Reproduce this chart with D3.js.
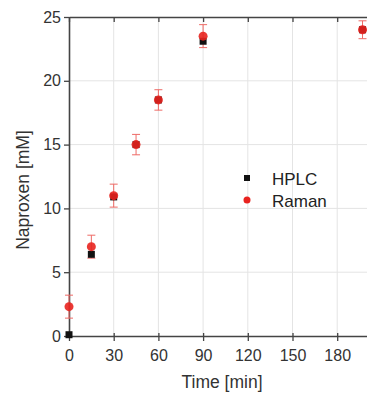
<!DOCTYPE html>
<html>
<head>
<meta charset="utf-8">
<script src="https://cdn.jsdelivr.net/npm/d3@7"></script>
<style>
  body { margin: 0; background: #fff; }
  svg { display: block; font-family: "Liberation Sans", Arial, sans-serif; }
</style>
</head>
<body>
<div id="chart"></div>
<script>
"use strict";

// data
var hplcTime = [0, 15, 30, 45, 60, 90, 197];
var hplcConc = [0.1, 6.4, 10.9, 15.0, 18.5, 23.1, 24.0];
var ramanTime = [0, 15, 30, 45, 60, 90, 197];
var ramanConc = [2.3, 7.0, 11.0, 15.0, 18.5, 23.5, 24.0];
var ramanErr = [0.9, 0.9, 0.9, 0.8, 0.8, 0.9, 0.7];
var xTicks = [0, 30, 60, 90, 120, 150, 180];
var yTicks = [0, 5, 10, 15, 20, 25];
var seriesNames = ["HPLC", "Raman"];

(function(){
    var W = 367, H = 393,
        left = 69, top = 17, bottom = 336, right = 367;

    var svg = d3.select("#chart").append("svg")
        .attr("width", W)
        .attr("height", H);

    var x = d3.scaleLinear().domain([0, 200]).range([left, right]);
    var y = d3.scaleLinear().domain([0, 25]).range([bottom, top]);

    // grid
    svg.append("g").selectAll("line.gx")
        .data(xTicks.slice(1))
        .enter().append("line")
        .attr("x1", function(d){ return x(d); })
        .attr("x2", function(d){ return x(d); })
        .attr("y1", top).attr("y2", bottom)
        .attr("stroke", "#e4e4e4").attr("stroke-width", 1);
    svg.append("g").selectAll("line.gy")
        .data(yTicks.slice(1, -1))
        .enter().append("line")
        .attr("x1", left).attr("x2", right)
        .attr("y1", function(d){ return y(d); })
        .attr("y2", function(d){ return y(d); })
        .attr("stroke", "#e4e4e4").attr("stroke-width", 1);

    // axes
    var xAxis = svg.append("g")
        .attr("transform", "translate(0," + bottom + ")")
        .call(d3.axisBottom(x).tickValues(xTicks).tickSize(5).tickSizeOuter(0).tickPadding(7));
    var yAxis = svg.append("g")
        .attr("transform", "translate(" + left + ",0)")
        .call(d3.axisLeft(y).tickValues(yTicks).tickSize(5).tickSizeOuter(0).tickPadding(3));
    var topAxis = svg.append("g")
        .attr("transform", "translate(0," + top + ")")
        .call(d3.axisTop(x).tickValues(xTicks).tickSize(-5).tickSizeOuter(0).tickFormat(""));

    [xAxis, yAxis, topAxis].forEach(function(a){
        a.select(".domain").attr("stroke", "#444").attr("stroke-width", 1.6);
        a.selectAll(".tick line").attr("stroke", "#444").attr("stroke-width", 1.3);
        a.selectAll(".tick text").attr("fill", "#333").style("font-size", "16px");
    });
    // bottom ticks cross the axis slightly
    xAxis.selectAll(".tick line").attr("y1", -3).attr("y2", 5);
    xAxis.selectAll(".tick text").attr("dy", "0.8em");

    // labels
    svg.append("text")
        .attr("x", 222).attr("y", 388)
        .attr("text-anchor", "middle")
        .attr("fill", "#333")
        .style("font-size", "17.5px")
        .text("Time [min]");
    svg.append("text")
        .attr("transform", "translate(29,190) rotate(-90)")
        .attr("text-anchor", "middle")
        .attr("fill", "#333")
        .style("font-size", "17.5px")
        .text("Naproxen [mM]");

    var raman = ramanTime.map(function(t, i){ return {t: t, v: ramanConc[i], e: ramanErr[i]}; });
    var hplc = hplcTime.map(function(t, i){ return {t: t, v: hplcConc[i]}; });

    // error bars
    var eb = svg.append("g").attr("stroke", "#ee6a66").attr("stroke-width", 1);
    raman.forEach(function(d){
        var cx = x(d.t);
        eb.append("line").attr("x1", cx).attr("x2", cx)
            .attr("y1", y(d.v + d.e)).attr("y2", y(d.v - d.e));
        eb.append("line").attr("x1", cx - 4).attr("x2", cx + 4)
            .attr("y1", y(d.v + d.e)).attr("y2", y(d.v + d.e));
        eb.append("line").attr("x1", cx - 4).attr("x2", cx + 4)
            .attr("y1", y(d.v - d.e)).attr("y2", y(d.v - d.e));
    });

    // HPLC squares
    svg.append("g").selectAll("rect")
        .data(hplc)
        .enter().append("rect")
        .attr("x", function(d){ return x(d.t) - 3.5; })
        .attr("y", function(d){ return y(d.v) - 3.5; })
        .attr("width", 7).attr("height", 7)
        .attr("fill", "#111");

    // Raman circles
    svg.append("g").selectAll("circle")
        .data(raman)
        .enter().append("circle")
        .attr("cx", function(d){ return x(d.t); })
        .attr("cy", function(d){ return y(d.v); })
        .attr("r", 4.5)
        .attr("fill", "#e8231f")
        .attr("fill-opacity", 0.9);

    // legend
    var lg = svg.append("g");
    lg.append("rect").attr("x", 244).attr("y", 175).attr("width", 6).attr("height", 6).attr("fill", "#111");
    lg.append("circle").attr("cx", 247).attr("cy", 200).attr("r", 3.5).attr("fill", "#e8231f");
    lg.selectAll("text")
        .data(seriesNames)
        .enter().append("text")
        .attr("x", 272)
        .attr("y", function(d, i){ return 185 + i * 22; })
        .attr("fill", "#222")
        .style("font-size", "17px")
        .text(function(d){ return d; });
})();
</script>
</body>
</html>
